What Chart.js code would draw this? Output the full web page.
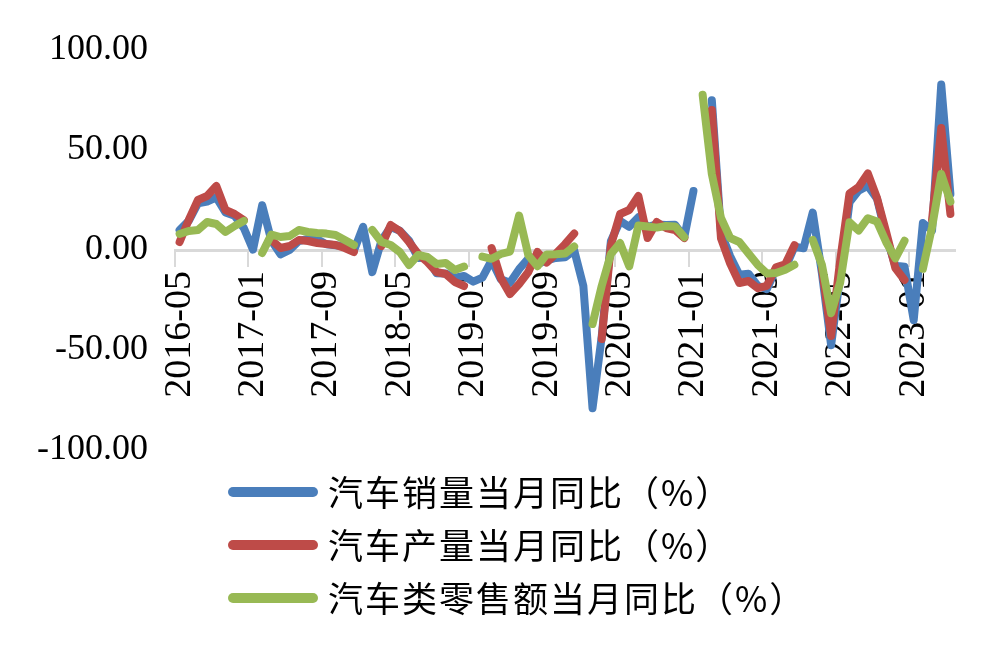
<!DOCTYPE html>
<html><head><meta charset="utf-8">
<script src="https://cdn.jsdelivr.net/npm/chart.js@4.4.0/dist/chart.umd.min.js"></script>
<style>
html,body{margin:0;padding:0;background:#fff;}
#wrap{position:relative;width:1004px;height:645px;overflow:hidden;background:#fff;}
#c{position:absolute;left:0;top:0;}
#legend{position:absolute;left:0;top:0;width:1004px;height:645px;pointer-events:none;}
.sw{position:absolute;width:90px;height:10px;border-radius:5px;}
.lbl{position:absolute;white-space:nowrap;font-family:"Noto Sans CJK SC";font-size:35px;letter-spacing:2px;line-height:40px;color:#000;}
</style></head>
<body>
<div id="wrap"><canvas id="c" width="1004" height="645"></canvas><div id="legend"></div></div>
<script>
// Categories: monthly 2016-05 .. 2023-05
const categories = [];
for (let y = 2016; y <= 2023; y++) {
  for (let m = 1; m <= 12; m++) {
    if (y === 2016 && m < 5) continue;
    if (y === 2023 && m > 5) continue;
    categories.push(y + '-' + String(m).padStart(2, '0'));
  }
}
const seriesNames = ['汽车销量当月同比（%）', '汽车产量当月同比（%）', '汽车类零售额当月同比（%）'];
const seriesColors = ['#4A7EBB', '#BE4B48', '#98B954'];

const salesYoY = [
  10, 14.6, 23.3, 24.2, 26.3, 18.8, 17.1, 11,
  0.2, 22.4, 4.7, -2.2, 0, 4.5, 5.6, 5.3, 2.9, 2.4, 1.9, -0.3,
  11.6, -11.1, 4.7, 11.5, 9.6, 4.8, -4, -3.8, -11.6, -11.7, -13.9, -13,
  -15.8, -13.8, -5.2, -14.6, -16.4, -9.6, -4.3, -6.9, -5.2, -4, -3.6, -0.1,
  -18, -79.1, -43.3, 4.4, 14.5, 11.6, 16.4, 11.6, 12.8, 12.5, 12.6, 6.4,
  29.5, null, 74.9, 8.6, -3.1, -12.4, -11.9, -17.8, -19.6, -9.4, -9.1, 1.6,
  0.9, 18.7, -11.7, -47.6, -12.6, 23.8, 29.7, 32.1, 25.7, 6.9, -7.9, -8.4,
  -35, 13.5, 9.7, 82.7, 27.9
];
const productionYoY = [
  4, 15, 25, 27, 32, 20, 18, 15,
  null, null, 5, 1, 2, 5, 4.5, 3.5, 3, 2.5, 1, -1,
  null, null, 2, 12.5, 9.5, 4, -2, -6, -11, -12, -16, -18,
  null, null, 1, -14, -22, -17, -11, -1, -6.3, -1.8, 2.9, 8.2,
  null, null, -44.5, 2.3, 18, 20, 27, 6, 14, 11, 10, 6,
  null, null, 70, 5.8, -6.8, -16.5, -15.5, -19.1, -17.9, -8.6, -7.1, 2.4,
  null, null, -9.1, -43, -4.8, 28.2, 31.5, 38.3, 26, 9, -9, -15,
  null, null, 15, 61, 18
];
const retailYoY = [
  8, 9.5, 10, 14, 13, 9, 12, 14.5,
  null, -1.5, 7.7, 6.5, 7, 10, 9, 8.5, 8.2, 7.5, 5, 2.5,
  null, 10, 4, 2.5, -1, -7.5, -2.5, -3.5, -7, -6.5, -10, -8.3,
  null, -3.3, -4.4, -2, -0.8, 17.2, -2.6, -8.1, -2.2, -2.1, -1.8, 1.8,
  null, -37, -18, -2, 3.5, -8.2, 12.3, 11.8, 11.2, 12, 11.8, 6.4,
  null, 77.6, 38, 16, 6, 4, -1.8, -7.4, -11.7, -11.5, -9.9, -7.4,
  null, 5, -7.5, -31.6, -16, 13.9, 9.7, 15.9, 14.2, 3.9, -4.2, 4.6,
  null, -9.4, 11.5, 38, 24.2
];
const yTicks = [-100, -50, 0, 50, 100];
const labelEvery = 8;

const seriesData = [salesYoY, productionYoY, retailYoY];
const datasets = seriesData.map((d, k) => ({
  label: seriesNames[k],
  data: d,
  borderColor: seriesColors[k],
  backgroundColor: seriesColors[k],
  borderWidth: 8,
  pointRadius: 0,
  tension: 0,
  spanGaps: false,
  borderJoinStyle: 'round',
  borderCapStyle: 'round',
  order: 3 - k
}));

new Chart(document.getElementById('c'), {
  type: 'line',
  data: { labels: categories, datasets },
  options: {
    responsive: false,
    animation: false,
    devicePixelRatio: 1,
    layout: { padding: { left: 0, right: 49, top: 50, bottom: 195 } },
    plugins: { legend: { display: false }, tooltip: { enabled: false } },
    scales: {
      x: {
        type: 'category',
        offset: true,
        position: { y: 0 },
        border: { display: true, color: '#D9D9D9', width: 3 },
        grid: {
          offset: true,
          drawOnChartArea: false,
          drawTicks: true,
          tickLength: 15,
          lineWidth: 2,
          color: ctx => (ctx.index % labelEvery === 0 ? '#D9D9D9' : 'rgba(0,0,0,0)')
        },
        ticks: {
          autoSkip: false,
          maxRotation: 90,
          minRotation: 90,
          padding: 6,
          color: '#000',
          font: { family: '"Liberation Serif"', size: 38 },
          callback: function (v, i) { return i % labelEvery === 0 ? categories[i] : ''; }
        }
      },
      y: {
        min: -100,
        max: 100,
        afterFit: s => { s.width = 175; },
        afterBuildTicks: s => { s.ticks = yTicks.map(v => ({ value: v })); },
        border: { display: false },
        grid: { display: false, drawTicks: false },
        ticks: {
          padding: 27,
          color: '#000',
          font: { family: '"Liberation Serif"', size: 36 },
          callback: v => Number(v).toFixed(2)
        }
      }
    }
  }
});

// Legend
const lg = document.getElementById('legend');
const rowY = [492, 545, 598];
seriesNames.forEach((n, k) => {
  const sw = document.createElement('div');
  sw.className = 'sw';
  sw.style.left = '228px';
  sw.style.top = (rowY[k] - 5) + 'px';
  sw.style.background = seriesColors[k];
  lg.appendChild(sw);
  const t = document.createElement('div');
  t.className = 'lbl';
  t.style.left = '328px';
  t.style.top = (rowY[k] - 21) + 'px';
  t.textContent = n;
  lg.appendChild(t);
});
</script>
</body></html>
